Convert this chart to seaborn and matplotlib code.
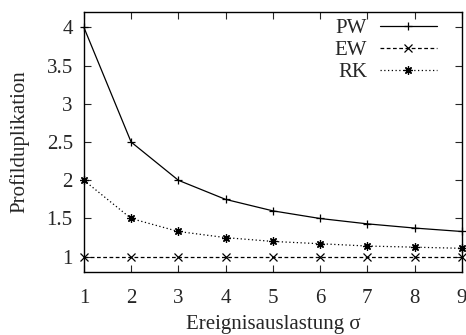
import matplotlib
matplotlib.use("Agg")
import matplotlib.pyplot as plt
import seaborn as sns
import pandas as pd

sigma = [1, 2, 3, 4, 5, 6, 7, 8, 9]
pw = [4.0, 2.5, 2.0, 1.75, 1.6, 1.5, 1.43, 1.375, 1.33]
ew = [1.0, 1.0, 1.0, 1.0, 1.0, 1.0, 1.0, 1.0, 1.0]
rk = [2.0, 1.5, 1.33, 1.25, 1.2, 1.17, 1.14, 1.125, 1.11]
yticks = [1, 1.5, 2, 2.5, 3, 3.5, 4]
ytick_labels = ["1", "1.5", "2", "2.5", "3", "3.5", "4"]

sns.set_style("ticks")
plt.rcParams["font.family"] = ["Liberation Serif", "DejaVu Serif"]
plt.rcParams["mathtext.fontset"] = "stix"

FS = 15
fig = plt.figure(figsize=(4.66, 3.35), dpi=100)
ax = fig.add_axes([0.180, 0.188, 0.811, 0.776])

series = [("PW", pw, "-", "+"), ("EW", ew, (0, (3, 2)), "x"), ("RK", rk, (0, (1, 2)), (8, 2, 0))]
for name, vals, ls, mk in series:
    df = pd.DataFrame({"x": sigma, "y": vals})
    sns.lineplot(data=df, x="x", y="y", ax=ax, color="black", linewidth=0.9,
                 linestyle=ls, marker=mk, markersize=6, markeredgewidth=0.9,
                 markeredgecolor="black", label=name, clip_on=False)

ax.set_xlim(1, 9)
ax.set_ylim(0.8, 4.2)
ax.set_xticks(sigma)
ax.set_yticks(yticks)
ax.set_yticklabels(ytick_labels)
ax.tick_params(direction="in", top=True, right=True, length=5, width=0.8,
               labelsize=FS, pad=8)
ax.tick_params(axis="x", pad=12)
for s in ax.spines.values():
    s.set_linewidth(1.0)
    s.set_color("black")
ax.set_xlabel("Ereignisauslastung σ", fontsize=FS, labelpad=5)
ax.set_ylabel("Profilduplikation", fontsize=FS, labelpad=12)

leg = ax.legend(loc="upper right", markerfirst=False, frameon=False, fontsize=FS,
                handlelength=2.75, handletextpad=0.6, labelspacing=0.12,
                borderpad=0.0, borderaxespad=0.0, bbox_to_anchor=(0.934, 0.975))
for t in leg.get_texts():
    t.set_ha("right")

fig.savefig("out.png", dpi=100)
